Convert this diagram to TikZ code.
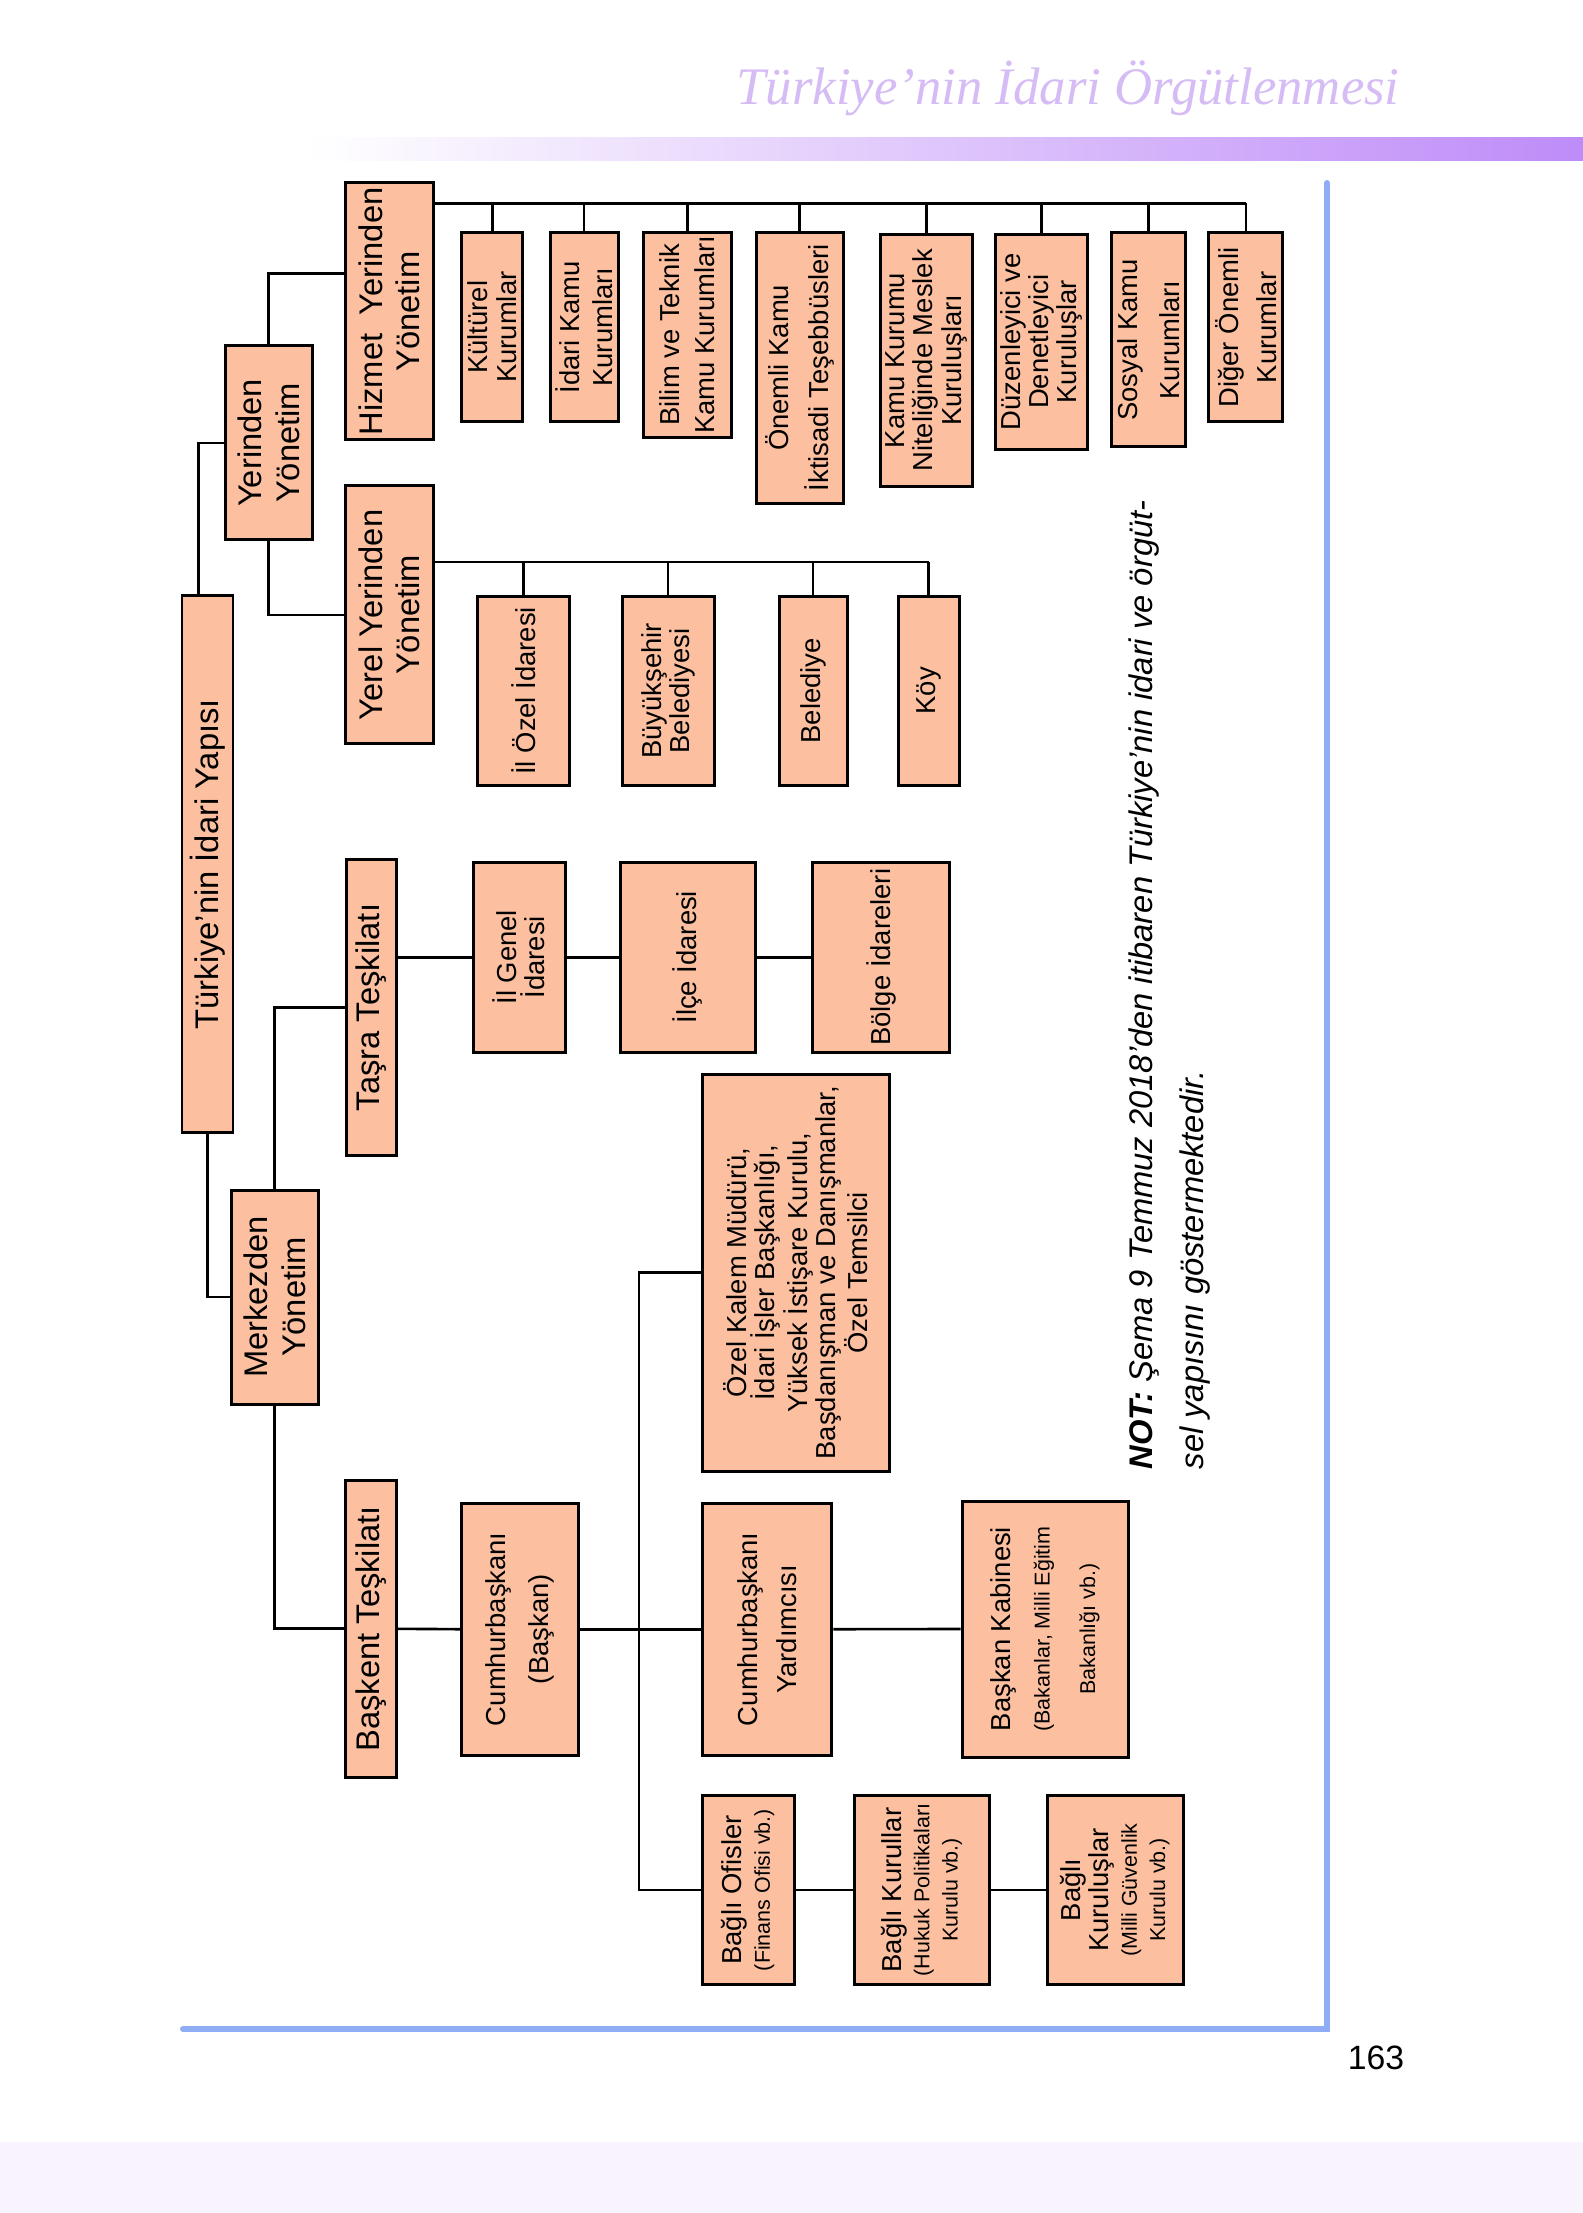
\documentclass[tikz,border=0pt]{standalone}
\usepackage{fontspec}
\setmainfont{Liberation Sans}
\newfontfamily\titlefont{Liberation Serif}
\usepackage{tikz}

\definecolor{boxfill}{RGB}{252,191,160}
\definecolor{frameblue}{RGB}{143,173,245}
\definecolor{barpurple}{RGB}{190,140,248}
\definecolor{titlepurple}{RGB}{214,188,245}
\definecolor{bandlav}{RGB}{248,243,253}

\newcommand{\smalltxt}[1]{{\fontsize{6.1}{7.4}\selectfont #1}}

\begin{document}
\begin{tikzpicture}[
    x=0.01cm, y=-0.01cm,
    box/.style={draw, fill=boxfill, line width=0.85pt, rotate=90,
                inner sep=0pt, align=center},
    boxsize/.style 2 args={minimum height=#1*0.01cm, minimum width=#2*0.01cm},
    toptxt/.style={font=\fontsize{9.3}{10.8}\selectfont},
    boxtxt/.style={font=\fontsize{7.8}{8}\selectfont},
    conn/.style={line width=0.75pt},
]
    \fill[white] (0,0) rectangle (1583,2213);
    \useasboundingbox (0,0) rectangle (1583,2213);

    \fill[bandlav] (0,2142) rectangle (1583,2213);
    \shade[left color=white, right color=barpurple] (308,138) rectangle (1583,161);
    \node[font=\titlefont\itshape\fontsize{15}{18}\selectfont, text=titlepurple] (title) at (1068,88) {Türkiye’nin İdari Örgütlenmesi};
    \draw[frameblue, line width=1.7pt, line cap=round] (183,2029) -- (1327,2029) -- (1327,183);
    \node[font=\fontsize{9.6}{11}\selectfont] (pnum) at (1376,2058) {163};

    \node[box, toptxt, boxsize={51}{537}] (turk) at (207.5,864.3) {Türkiye’nin İdari Yapısı};
    \node[box, toptxt, boxsize={87.5}{194}] (yer) at (268.8,442.9) {Yerinden\\Yönetim};
    \node[box, toptxt, boxsize={87.5}{257}] (hiz) at (389.3,311.5) {Hizmet\ \ Yerinden\\Yönetim};
    \node[box, toptxt, boxsize={87.5}{258}] (yrl) at (389.3,614.9) {Yerel Yerinden\\Yönetim};
    \node[box, toptxt, boxsize={87.5}{214}] (mrk) at (274.8,1297) {Merkezden\\Yönetim};
    \node[box, toptxt, boxsize={50.5}{296}] (tas) at (371.3,1007.5) {Taşra Teşkilatı};
    \node[box, toptxt, boxsize={51}{296.5}] (bas) at (371,1628.8) {Başkent Teşkilatı};

    \node[box, boxtxt, boxsize={60.8}{189.4}] (kul) at (492.2,327.2) {Kültürel\\Kurumlar};
    \node[box, boxtxt, boxsize={68}{189.4}] (idk) at (584,327.2) {İdari Kamu\\[1.5pt]Kurumları};
    \node[box, boxtxt, boxsize={87.4}{204.5}] (bil) at (687.3,334.8) {Bilim ve Teknik\\[2pt]Kamu Kurumları};
    \node[box, boxtxt, boxsize={87.5}{270.5}] (onm) at (799.8,367.8) {Önemli Kamu\\[3.4pt]İktisadi Teşebbüsleri};
    \node[box, boxtxt, boxsize={92.7}{252.7}] (kmk) at (926.4,360.4) {Kamu Kurumu\\Niteliğinde Meslek\\Kuruluşları};
    \node[box, boxtxt, boxsize={92.5}{215.5}] (duz) at (1041.3,341.8) {Düzenleyici ve\\Denetleyici\\Kuruluşlar};
    \node[box, boxtxt, boxsize={73.9}{214}] (sos) at (1148.6,340) {Sosyal Kamu\\[4pt]Kurumları};
    \node[box, boxtxt, boxsize={73.8}{188.8}] (dig) at (1245.8,327.4) {Diğer Önemli\\[2.8pt]Kurumlar};

    \node[box, boxtxt, boxsize={91.9}{189.5}] (ilo) at (523.6,690.8) {İl Özel İdaresi};
    \node[box, boxtxt, boxsize={92}{189.5}] (buy) at (668,690.8) {Büyükşehir\\Belediyesi};
    \node[box, boxtxt, boxsize={68}{189.5}] (bel) at (813,690.8) {Belediye};
    \node[box, boxtxt, boxsize={61}{189.5}] (koy) at (928.5,690.8) {Köy};

    \node[box, boxtxt, boxsize={92}{189.6}] (ilg) at (519,957.2) {İl Genel\\İdaresi};
    \node[box, boxtxt, boxsize={135.7}{189.6}] (ilc) at (687.9,957.2) {İlçe İdaresi};
    \node[box, boxtxt, boxsize={136.7}{189.6}] (bol) at (881.3,957.2) {Bölge İdareleri};

    \node[box, boxtxt, boxsize={116.2}{251.6}] (cum) at (519.9,1629.2) {Cumhurbaşkanı\\[4pt](Başkan)};
    \node[box, boxtxt, boxsize={187.4}{396.6}] (ozk) at (795.7,1272.7) {Özel Kalem Müdürü,\\İdari İşler Başkanlığı,\\Yüksek İstişare Kurulu,\\Başdanışman ve Danışmanlar,\\Özel Temsilci};
    \node[box, boxtxt, boxsize={129.7}{251.6}] (yrd) at (766.9,1629.2) {Cumhurbaşkanı\\[3pt]Yardımcısı};
    \node[box, boxtxt, boxsize={166.6}{256}] (kab) at (1045.3,1629) {Başkan Kabinesi\\[3pt]\smalltxt{(Bakanlar, Milli Eğitim}\\[5pt]\smalltxt{Bakanlığı vb.)}};
    \node[box, boxtxt, boxsize={92}{189}] (ofs) at (748,1890) {Bağlı Ofisler\\\smalltxt{(Finans Ofisi vb.)}};
    \node[box, boxtxt, boxsize={135}{189}] (krl) at (921.5,1890) {Bağlı Kurullar\\\smalltxt{(Hukuk Politikaları}\\\smalltxt{Kurulu vb.)}};
    \node[box, boxtxt, boxsize={136}{189}] (kru) at (1115,1890) {Bağlı\\Kuruluşlar\\\smalltxt{(Milli Güvenlik}\\\smalltxt{Kurulu vb.)}};

    \node[rotate=90, anchor=north west, inner sep=0pt, align=left,
          font=\itshape\fontsize{9.3}{14.5}\selectfont] (note) at (1128,1470)
          {\textbf{NOT:} Şema 9 Temmuz 2018’den itibaren Türkiye’nin idari ve örgüt-\\sel yapısını göstermektedir.};

    \coordinate (hbus) at (433,203.5);
    \coordinate (ybus) at (433,562);
    \coordinate (spine) at (639,1629);

    \draw[conn] ([xshift=-0.9mm]turk.east) |- (yer.north);
    \draw[conn] (turk.west) |- (mrk.north);
    \draw[conn] (yer.east) |- ([yshift=3.8mm]hiz.north);
    \draw[conn] (yer.west) |- (yrl.north);
    \draw[conn] (hiz.south |- hbus) -- (dig.east |- hbus);
    \foreach \n in {kul,idk,bil,onm,kmk,duz,sos,dig}
        \draw[conn] (\n.east) -- (\n.east |- hbus);
    \draw[conn] (yrl.south |- ybus) -- (koy.east |- ybus);
    \foreach \n in {ilo,buy,bel,koy}
        \draw[conn] (\n.east) -- (\n.east |- ybus);

    \draw[conn] (mrk.east) |- (tas.north);
    \draw[conn] (mrk.west) |- (bas.north);
    \draw[conn] (tas.south |- ilg.north) -- (ilg.north);
    \draw[conn] (ilg.south) -- (ilc.north);
    \draw[conn] (ilc.south) -- (bol.north);

    \draw[conn] (bas.south) -- (cum.north);
    \draw[conn] (cum.south) -- (yrd.north);
    \draw[conn] (ozk.north) -| (spine) |- (ofs.north);
    \draw[conn] (yrd.south) -- (kab.north);
    \draw[conn] (ofs.south) -- (krl.north);
    \draw[conn] (krl.south) -- (kru.north);
\end{tikzpicture}
\end{document}
